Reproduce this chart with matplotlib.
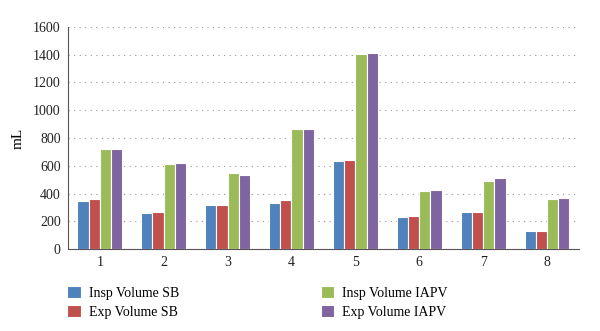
import matplotlib
matplotlib.use("Agg")
import matplotlib.pyplot as plt
import numpy as np

plt.rcParams['font.family'] = ['Liberation Serif', 'DejaVu Serif']

cases = ['1', '2', '3', '4', '5', '6', '7', '8']
insp_sb = [349, 263, 320, 332, 636, 232, 270, 129]
exp_sb = [359, 268, 320, 352, 641, 237, 266, 129]
insp_iapv = [718, 615, 550, 862, 1404, 421, 488, 363]
exp_iapv = [722, 620, 536, 862, 1412, 424, 514, 368]

series = [
    ("Insp Volume SB", insp_sb, "#4F81BD"),
    ("Exp Volume SB", exp_sb, "#C0504D"),
    ("Insp Volume IAPV", insp_iapv, "#9BBB59"),
    ("Exp Volume IAPV", exp_iapv, "#8064A2"),
]

fig = plt.figure(figsize=(6, 3.31), dpi=100)
ax = fig.add_axes([0.113, 0.247, 0.852, 0.672])

x = np.arange(len(cases))
w = 0.175
for i, (name, vals, col) in enumerate(series):
    ax.bar(x + (i - 1.5) * w, vals, w, color=col, edgecolor="white",
           linewidth=0.8, label=name, zorder=3)

ax.set_xlim(-0.5, 7.5)
ax.set_ylim(0, 1600)
ax.set_yticks(range(0, 1601, 200))
ax.set_xticks(x)
ax.set_xticklabels(cases)
ax.tick_params(length=0, labelsize=10, colors="#222222", pad=5)
ax.set_ylabel("mL", fontsize=11, labelpad=6)

ax.yaxis.grid(True, linestyle=(0, (1, 4)), color="#999999", linewidth=0.8, zorder=0)
for s in ["top", "right"]:
    ax.spines[s].set_visible(False)
ax.spines["left"].set_color("#555555")
ax.spines["bottom"].set_color("#555555")

ax.legend(loc="upper left", bbox_to_anchor=(-0.023, -0.115), ncol=2, frameon=False,
          fontsize=10, handlelength=1.0, handleheight=1.0, columnspacing=10.2,
          labelspacing=0.35, handletextpad=0.55, borderpad=0.3)

fig.savefig("out.png", dpi=100)
